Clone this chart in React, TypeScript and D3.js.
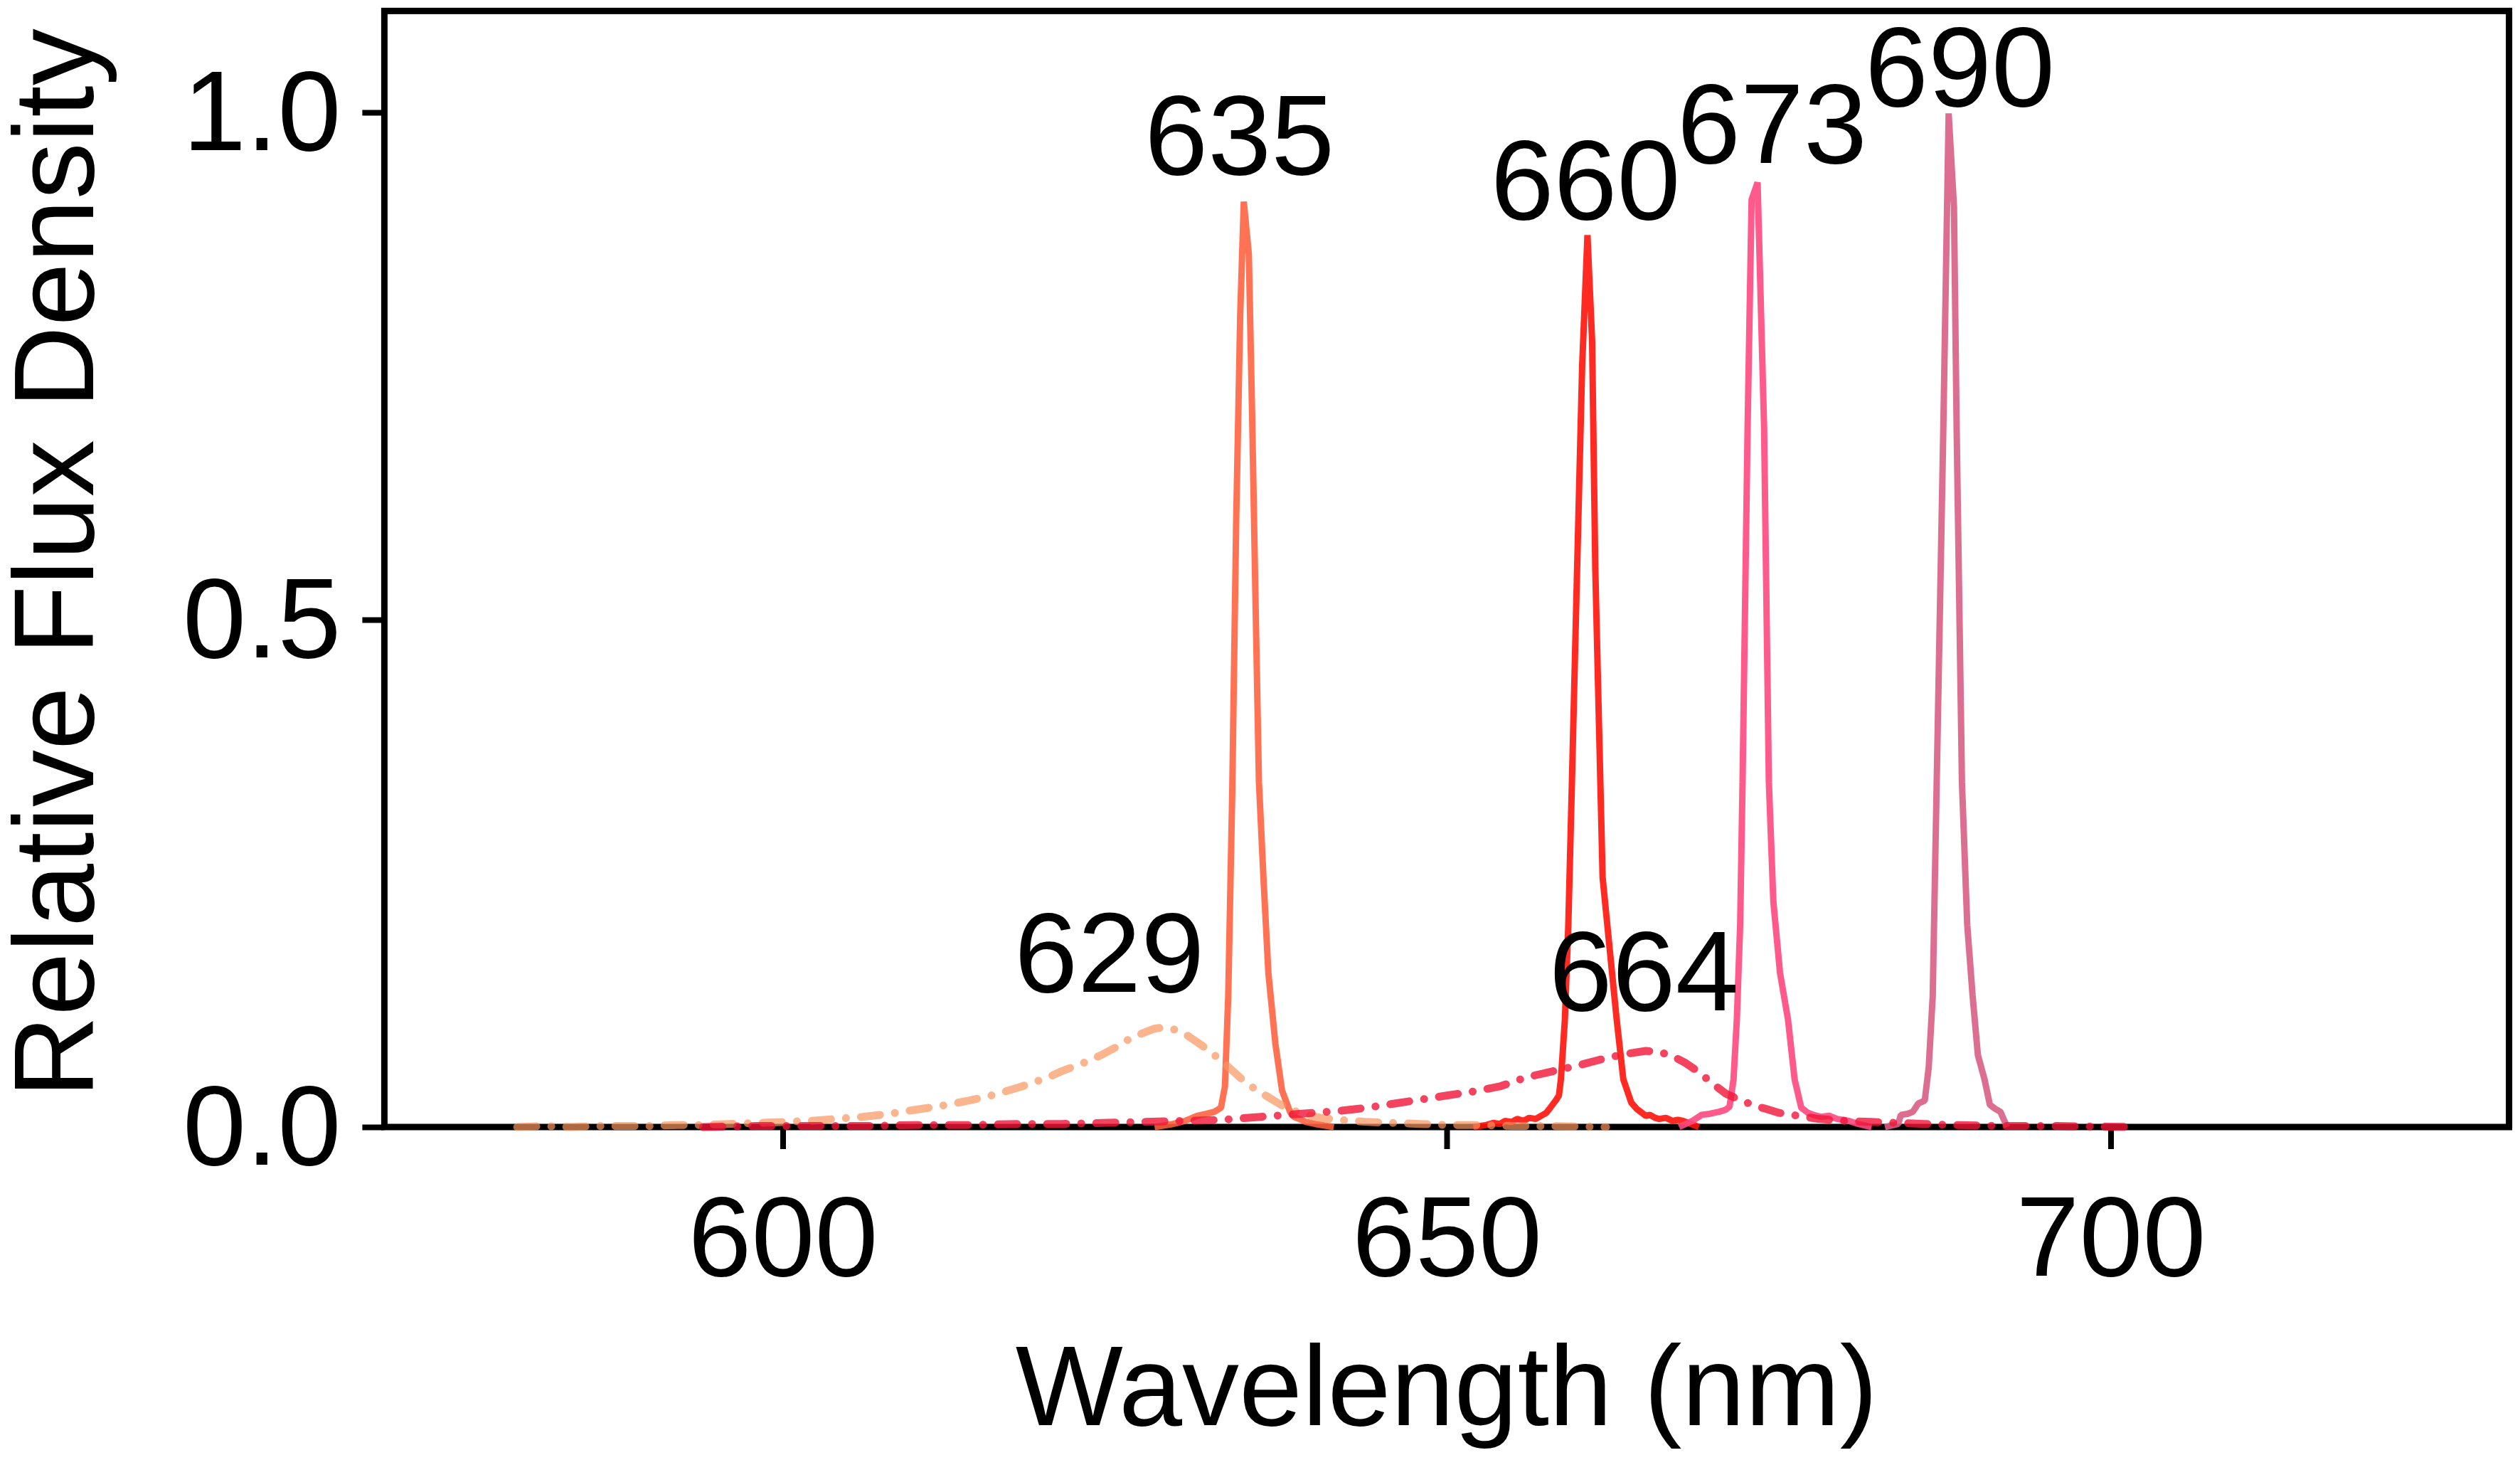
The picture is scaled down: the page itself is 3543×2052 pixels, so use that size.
import * as d3 from "d3";
import React, { useEffect, useRef } from "react";

// peak labels (text, x in nm, baseline in flux units)
const peakLabels = ["629", "635", "660", "664", "673", "690"];
const labelX = [624.6, 634.4, 660.45, 664.85, 674.5, 688.65];
const labelY = [0.133, 0.939, 0.895, 0.115, 0.95, 1.006];

const xTicks = [600, 650, 700];
const yTicks = [0, 0.5, 1.0];

// broad LEDs (dash-dot)
const led629: [number, number][] = [
  [580, 0.0], [582, 0.001], [584, 0.0], [586, 0.001], [588, 0.001], [590, 0.001],
  [592, 0.002], [594, 0.002], [596, 0.003], [598, 0.004], [600, 0.005], [602, 0.006],
  [604, 0.008], [606, 0.01], [608, 0.013], [610, 0.017], [612, 0.021], [614, 0.026],
  [616, 0.032], [618, 0.04], [620, 0.049], [621, 0.055], [622, 0.06], [623, 0.065],
  [624, 0.071], [625, 0.078], [626, 0.086], [627, 0.092], [628, 0.097], [628.6, 0.098],
  [629.5, 0.096], [630.5, 0.09], [631.5, 0.081], [632.5, 0.071], [633.5, 0.06],
  [634.5, 0.048], [635.5, 0.038], [636.5, 0.03], [637.5, 0.022], [638.5, 0.016],
  [639.5, 0.012], [640.5, 0.009], [642, 0.007], [644, 0.005], [646, 0.004], [648, 0.003],
  [650, 0.002], [652, 0.002], [655, 0.001], [658, 0.001], [662, 0.0],
];

const led664: [number, number][] = [
  [594, 0.0], [598, 0.001], [602, 0.001], [606, 0.001], [610, 0.002], [614, 0.002],
  [618, 0.003], [621, 0.003], [624, 0.004], [627, 0.005], [630, 0.006], [633, 0.007],
  [636, 0.01], [638, 0.012], [640, 0.014], [642, 0.016], [644, 0.019], [646, 0.023],
  [648, 0.027], [650, 0.031], [652, 0.035], [654, 0.04], [656, 0.049], [658, 0.055],
  [660, 0.061], [662, 0.068], [663.5, 0.072], [665, 0.075], [666, 0.074], [667, 0.07],
  [668, 0.063], [669, 0.054], [670, 0.043], [671, 0.033], [672, 0.027], [673, 0.022],
  [674, 0.018], [675, 0.014], [676, 0.012], [678, 0.008], [680, 0.006], [682, 0.005],
  [684, 0.004], [686, 0.003], [688, 0.002], [692, 0.001], [696, 0.001], [702, 0.0],
];

// narrow LEDs (solid)
const led635: [number, number][] = [
  [628.0, 0], [629.4, 0.003], [630.3, 0.006], [631.2, 0.011], [631.9, 0.013], [632.5, 0.015],
  [633.0, 0.019], [633.3, 0.04], [633.55, 0.13], [633.85, 0.33], [634.15, 0.6], [634.45, 0.8],
  [634.72, 0.912], [635.1, 0.86], [635.35, 0.7], [635.6, 0.52], [635.86, 0.34], [636.2, 0.246],
  [636.57, 0.152], [637.1, 0.082], [637.6, 0.036], [638.2, 0.015], [638.5, 0.01], [638.9, 0.008],
  [639.4, 0.005], [640.1, 0.003], [641.5, 0],
];

const led660: [number, number][] = [
  [652.0, 0], [653.0, 0.002], [653.5, 0.004], [654.0, 0.003], [654.4, 0.006], [654.9, 0.005],
  [655.3, 0.008], [655.8, 0.006], [656.2, 0.009], [656.7, 0.008], [657.1, 0.011], [657.5, 0.014],
  [657.8, 0.019], [658.2, 0.026], [658.45, 0.031], [658.6, 0.047], [658.9, 0.106], [659.16, 0.2],
  [659.43, 0.34], [659.82, 0.55], [660.2, 0.75], [660.6, 0.879], [660.95, 0.775], [661.19, 0.55],
  [661.57, 0.34], [661.74, 0.246], [662.27, 0.176], [662.8, 0.106], [663.3, 0.047], [663.9, 0.024],
  [664.3, 0.018], [664.6, 0.015], [665.0, 0.011], [665.3, 0.012], [665.7, 0.009], [666.0, 0.008],
  [666.5, 0.009], [667.0, 0.006], [667.4, 0.007], [667.8, 0.006], [668.4, 0.003], [669.0, 0],
];

const led673: [number, number][] = [
  [667.5, 0], [668.5, 0.006], [669.2, 0.012], [669.8, 0.013], [670.5, 0.015], [671.0, 0.017],
  [671.3, 0.02], [671.6, 0.047], [671.85, 0.106], [672.1, 0.2], [672.28, 0.34], [672.66, 0.69],
  [672.96, 0.914], [673.41, 0.931], [673.9, 0.69], [674.26, 0.34], [674.6, 0.222], [675.1, 0.152],
  [675.7, 0.106], [676.2, 0.047], [676.7, 0.019], [677.2, 0.014], [677.6, 0.012], [678.2, 0.01],
  [678.8, 0.011], [679.4, 0.008], [680.3, 0.006], [681.0, 0.003], [682.0, 0],
];

const led690: [number, number][] = [
  [683.0, 0], [684.0, 0.003], [684.2, 0.012], [684.7, 0.013], [685.1, 0.015], [685.5, 0.023],
  [686.0, 0.026], [686.3, 0.059], [686.6, 0.129], [686.9, 0.34], [687.4, 0.69], [687.8, 0.999],
  [688.2, 0.907], [688.4, 0.69], [688.8, 0.34], [689.2, 0.199], [689.6, 0.13], [690.0, 0.071],
  [690.5, 0.047], [690.9, 0.022], [691.3, 0.018], [691.7, 0.015], [692.2, 0],
];

interface Series {
  data: [number, number][];
  color: string;
  dashed: boolean;
}

const series: Series[] = [
  { data: led635, color: "rgba(255,95,60,0.88)", dashed: false },
  { data: led660, color: "rgba(255,20,10,0.9)", dashed: false },
  { data: led673, color: "rgba(255,72,127,0.9)", dashed: false },
  { data: led690, color: "rgba(216,94,133,0.9)", dashed: false },
  { data: led629, color: "rgba(248,150,95,0.7)", dashed: true },
  { data: led664, color: "rgba(240,20,55,0.8)", dashed: true },
];

const width = 3543;
const height = 2052;
const marginLeft = 540.4;
const marginRight = 15.4;
const marginTop = 15.4;
const marginBottom = 468;
const fontSize = 160;
const font = "'Liberation Sans', Arial, Helvetica, sans-serif";

export default function App() {
  const svgRef = useRef<SVGSVGElement>(null);

  useEffect(() => {
    if (!svgRef.current) return;
    const svg = d3.select(svgRef.current);
    svg.selectAll("*").remove();

    const x = d3.scaleLinear([570, 730], [marginLeft, width - marginRight]);
    const y = d3.scaleLinear([0, 1.1], [height - marginBottom, marginTop]);

    svg.append("rect").attr("width", width).attr("height", height).attr("fill", "white");

    // frame
    svg
      .append("rect")
      .attr("x", marginLeft)
      .attr("y", marginTop)
      .attr("width", width - marginLeft - marginRight)
      .attr("height", height - marginTop - marginBottom)
      .attr("fill", "none")
      .attr("stroke", "black")
      .attr("stroke-width", 9);

    // ticks
    const xAxis = d3.axisBottom(x).tickValues(xTicks).tickSize(31).tickFormat(d3.format("d"));
    svg
      .append("g")
      .attr("transform", `translate(0,${height - marginBottom})`)
      .call(xAxis)
      .call((g) => g.select(".domain").remove())
      .call((g) => g.selectAll(".tick line").attr("stroke-width", 8))
      .call((g) =>
        g
          .selectAll(".tick text")
          .attr("y", 209)
          .attr("dy", null)
          .attr("font-size", fontSize)
          .attr("font-family", font)
          .attr("fill", "black")
      );

    const yAxis = d3.axisLeft(y).tickValues(yTicks).tickSize(31).tickFormat(d3.format(".1f"));
    svg
      .append("g")
      .attr("transform", `translate(${marginLeft},0)`)
      .call(yAxis)
      .call((g) => g.select(".domain").remove())
      .call((g) => g.selectAll(".tick line").attr("stroke-width", 8))
      .call((g) =>
        g
          .selectAll(".tick text")
          .attr("x", -61)
          .attr("dy", "0.33em")
          .attr("font-size", fontSize)
          .attr("font-family", font)
          .attr("fill", "black")
      );

    // spectra
    const line = d3
      .line<[number, number]>()
      .x((d) => x(d[0]))
      .y((d) => y(d[1]));

    svg
      .append("g")
      .selectAll("path")
      .data(series)
      .join("path")
      .attr("d", (s) => line(s.data))
      .attr("fill", "none")
      .attr("stroke", (s) => s.color)
      .attr("stroke-width", (s) => (s.dashed ? 11 : 9))
      .attr("stroke-linejoin", (s) => (s.dashed ? "round" : "bevel"))
      .attr("stroke-linecap", (s) => (s.dashed ? "round" : "butt"))
      .attr("stroke-dasharray", (s) => (s.dashed ? "27 21 0.1 21" : null));

    // peak labels
    svg
      .append("g")
      .selectAll("text")
      .data(peakLabels)
      .join("text")
      .attr("x", (_, i) => x(labelX[i]))
      .attr("y", (_, i) => y(labelY[i]))
      .attr("text-anchor", "middle")
      .attr("font-size", fontSize)
      .attr("font-family", font)
      .attr("fill", "black")
      .text((d) => d);

    // axis titles
    svg
      .append("text")
      .attr("x", (marginLeft + width - marginRight) / 2)
      .attr("y", 2003)
      .attr("text-anchor", "middle")
      .attr("font-size", fontSize)
      .attr("font-family", font)
      .attr("fill", "black")
      .text("Wavelength (nm)");

    svg
      .append("text")
      .attr("transform", `translate(131,${(marginTop + height - marginBottom) / 2 - 8}) rotate(-90)`)
      .attr("text-anchor", "middle")
      .attr("font-size", fontSize)
      .attr("font-family", font)
      .attr("fill", "black")
      .text("Relative Flux Density");
  }, []);

  return (
    <div style={{ position: "absolute", left: 0, top: 0 }}>
      <svg ref={svgRef} width={width} height={height} style={{ display: "block" }} />
    </div>
  );
}
